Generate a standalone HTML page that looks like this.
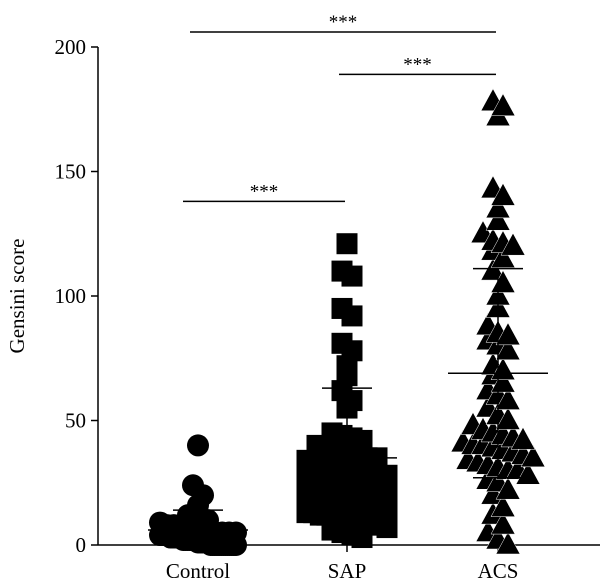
<!DOCTYPE html>
<html><head><meta charset="utf-8"><style>
html,body{margin:0;padding:0;background:#fff;}
svg{display:block;font-family:"Liberation Serif",serif;}
</style></head><body>
<svg id="chart" width="600" height="588" viewBox="0 0 600 588" xmlns="http://www.w3.org/2000/svg"></svg>
<script>
const categories = ["Control","SAP","ACS"];
const controlValues = [40,24,20,16,12,11,10,9,8,8,7,7,6,6,6,5,5,5,5,4,4,4,4,4,3,3,3,3,3,3,2,2,2,2,2,2,2,1,1,1,1,1,1,0,0,0,0,0,0,0,0,0,0,0,0,0];
const sapValues = [121,110,108,95,92,81,78,72,68,62,58,55,45,44,43,42,40,39,38,37,36,35,35,34,33,32,31,30,30,29,28,28,27,26,26,25,25,24,24,23,23,22,22,21,21,20,20,20,19,19,18,18,18,17,17,16,16,16,15,15,14,14,13,13,12,12,11,11,10,10,9,9,8,8,7,6,5,4,3];
const acsValues = [178,176,172,143,140,135,130,125,122,121,120,118,115,110,105,100,95,88,85,84,82,80,78,72,70,68,65,62,60,58,55,52,50,48,46,45,44,43,42,41,40,40,39,38,37,36,35,34,33,32,31,30,30,28,26,25,22,20,15,12,8,5,2,0];
const means = [6,35,69];
const sdUpper = [14,63,111];
const sdLower = [0,7,27];
const yTicks = [0,50,100,150,200];
const sigPairs = [[0,1],[1,2],[0,2]];
const sigLevels = [138,189,206];
const sigLabels = ["***","***","***"];

const NS="http://www.w3.org/2000/svg";
const svg=document.getElementById('chart');
const X0=98, Y0=545, YS=2.49;
const catX=[198,347,498];
function y(v){return Y0 - v*YS;}
function x(i){return catX[i];}
function mk(tag,attrs,parent){const e=document.createElementNS(NS,tag);for(const k in attrs)e.setAttribute(k,attrs[k]);(parent||svg).appendChild(e);return e;}

// axes
const axY=mk('line',{x1:X0,y1:y(0),x2:X0,y2:y(200),stroke:'#000','stroke-width':1.5});


const axX=mk('line',{x1:X0,y1:Y0,x2:600,y2:Y0,stroke:'#000','stroke-width':1.5});


yTicks.forEach(t=>{
  const tk=mk('line',{x1:X0-7,y1:y(t),x2:X0,y2:y(t),stroke:'#000','stroke-width':1.5});
  
  
  const tl=mk('text',{x:X0-12,y:y(t)+7,'text-anchor':'end','font-size':21});
  tl.textContent=t;
  
  
});
categories.forEach((c,i)=>{
  const tk=mk('line',{x1:x(i),y1:Y0,x2:x(i),y2:Y0+7,stroke:'#000','stroke-width':1.5});
  
  
  const tl=mk('text',{x:x(i),y:578,'text-anchor':'middle','font-size':21});
  tl.textContent=c;
  
  
});
const yt=mk('text',{x:0,y:0,'text-anchor':'middle','font-size':21,transform:'translate(24,296) rotate(-90)'});
yt.textContent='Gensini score';



// binned swarm with capped width
function swarm(vals,cx,bin,spacing,maxHalf){
  const bins={};
  vals.forEach(v=>{const b=Math.floor(v/bin);(bins[b]=bins[b]||[]).push(v);});
  const out=[];
  Object.keys(bins).forEach(b=>{
    const arr=bins[b];const n=arr.length;
    const half=Math.min((n-1)*spacing/2,maxHalf);
    arr.forEach((v,k)=>{
      const off=n===1?0:-half+2*half*k/(n-1);
      out.push([cx+off,y(v),v]);
    });
  });
  return out;
}
const groups=[controlValues,sapValues,acsValues];
const binSizes=[5,7,7];
const maxHalves=[38,40,36];
groups.forEach((vals,gi)=>{
  const g=mk('g',{});
  
  
  swarm(vals,x(gi),binSizes[gi],10,maxHalves[gi]).forEach(p=>{
    let e;
    if(gi===0) e=mk('circle',{cx:p[0],cy:p[1],r:11,fill:'#000'},g);
    else if(gi===1) e=mk('rect',{x:p[0]-10.5,y:p[1]-10.5,width:21,height:21,fill:'#000'},g);
    else e=mk('polygon',{points:`${p[0]},${p[1]-13} ${p[0]-12},${p[1]+9} ${p[0]+12},${p[1]+9}`,fill:'#000',stroke:'#fff','stroke-width':0.5},g);
    
    
  });
});

// mean & sd
means.forEach((m,i)=>{
  const ml=mk('line',{x1:x(i)-50,y1:y(m),x2:x(i)+50,y2:y(m),stroke:'#000','stroke-width':1.5});
  
  
  const vl=mk('line',{x1:x(i),y1:y(sdLower[i]),x2:x(i),y2:y(sdUpper[i]),stroke:'#000','stroke-width':1.5});
  
  
  const su=mk('line',{x1:x(i)-25,y1:y(sdUpper[i]),x2:x(i)+25,y2:y(sdUpper[i]),stroke:'#000','stroke-width':1.5});
  
  
  if(sdLower[i]>0){
    const sl=mk('line',{x1:x(i)-25,y1:y(sdLower[i]),x2:x(i)+25,y2:y(sdLower[i]),stroke:'#000','stroke-width':1.5});
    
    
  }
});

// significance
sigPairs.forEach((p,i)=>{
  const yy=y(sigLevels[i]);
  const x1=x(p[0])-(p[0]===0&&p[1]===1?15:8), x2=x(p[1])-2;
  const l=mk('line',{x1:x1,y1:yy,x2:x2,y2:yy,stroke:'#000','stroke-width':1.5});
  
  
  const t=mk('text',{x:(x1+x2)/2,y:yy-4,'text-anchor':'middle','font-size':19});
  t.textContent=sigLabels[i];
  
  
});
</script>
</body></html>
